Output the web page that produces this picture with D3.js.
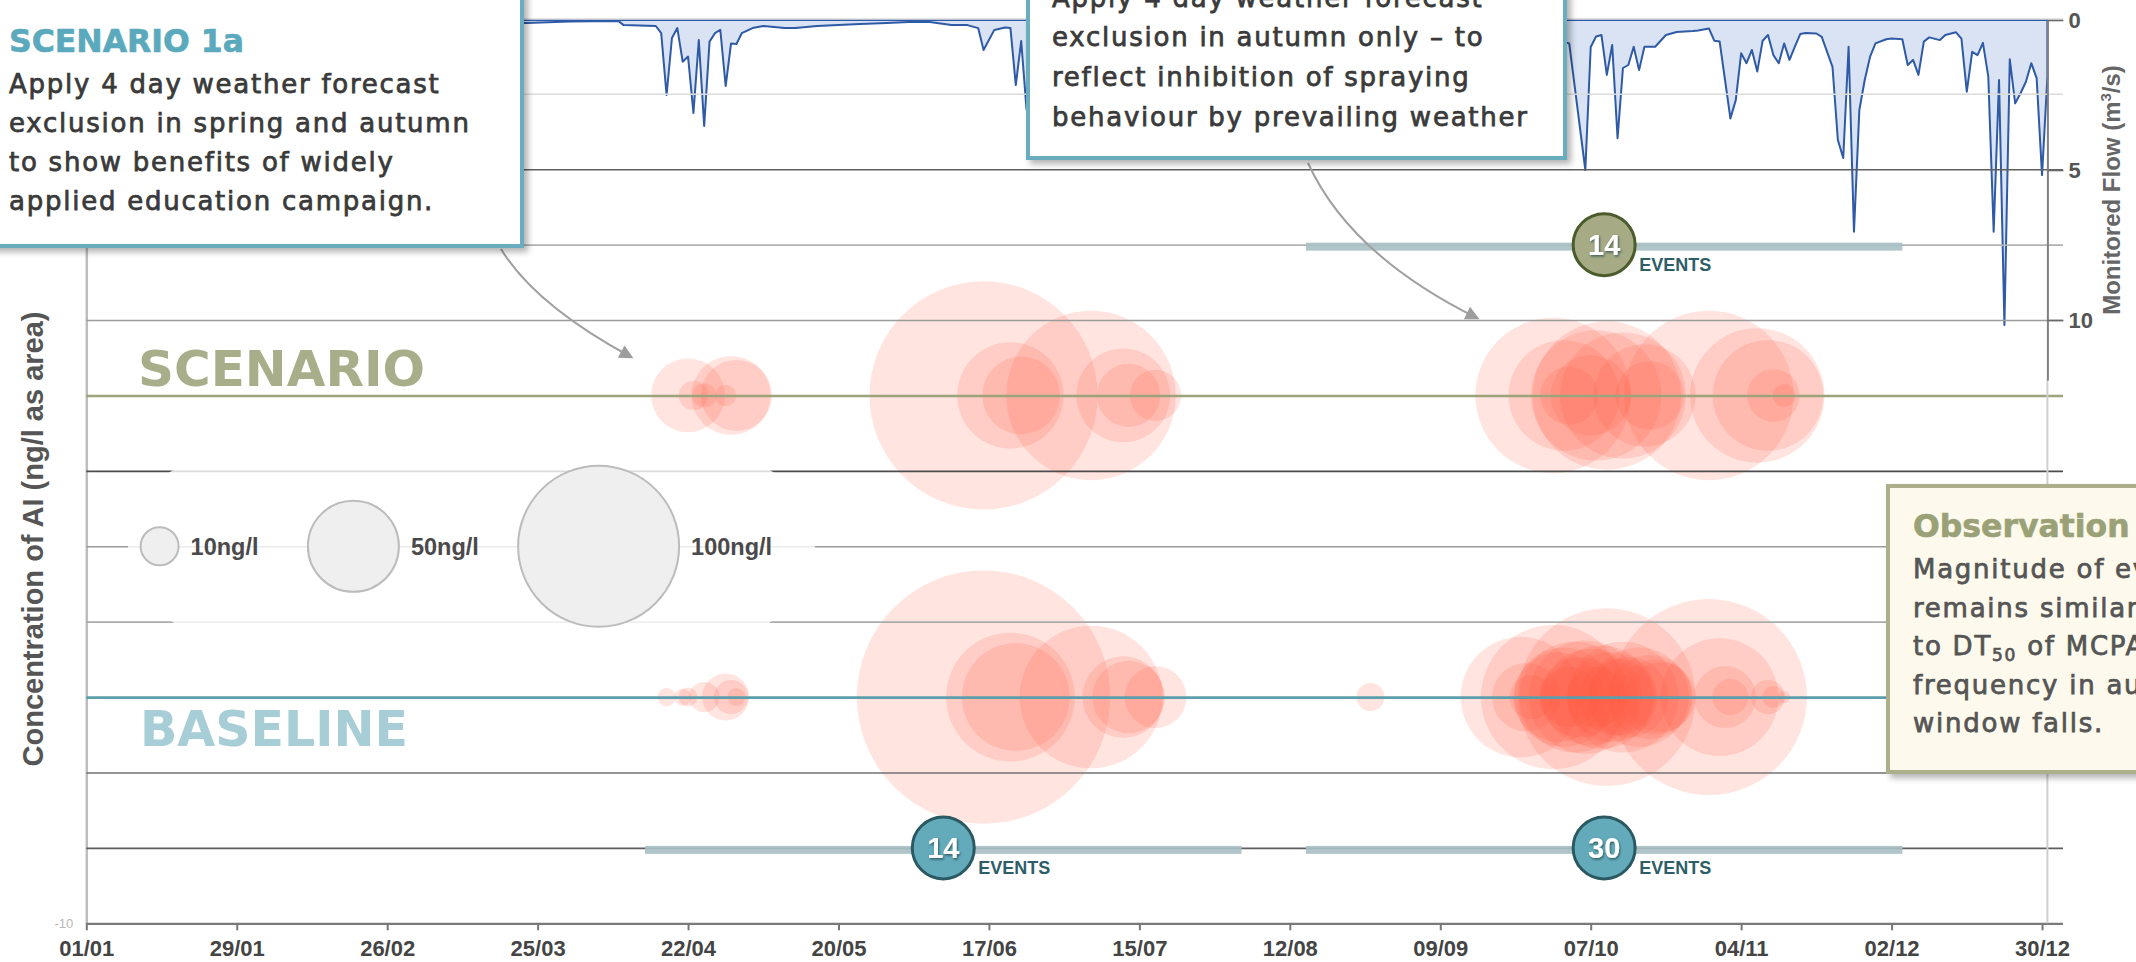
<!DOCTYPE html>
<html>
<head>
<meta charset="utf-8">
<script src="https://cdnjs.cloudflare.com/ajax/libs/d3/7.8.5/d3.min.js"></script>
<style>
  html, body { margin: 0; padding: 0; background: #fff; }
  svg { display: block; }
</style>
</head>
<body>
<svg id="chart" width="2136" height="962"></svg>
<script>
// ---------------- data ----------------
const tickDates  = ["2012-01-01","2012-01-29","2012-02-26","2012-03-25","2012-04-22","2012-05-20","2012-06-17",
                    "2012-07-15","2012-08-12","2012-09-09","2012-10-07","2012-11-04","2012-12-02","2012-12-30"];
const tickLabels = ["01/01","29/01","26/02","25/03","22/04","20/05","17/06","15/07","12/08","09/09","07/10","04/11","02/12","30/12"];

// Concentration events (ng/l), baseline run
const baselineDates = ["2012-04-18","2012-04-21","2012-04-22","2012-04-25","2012-04-29","2012-04-30","2012-05-01",
                       "2012-06-16","2012-06-21","2012-06-22","2012-07-06","2012-07-12","2012-07-13","2012-07-18",
                       "2012-08-27","2012-09-24","2012-09-25","2012-09-26","2012-09-30","2012-10-01","2012-10-02",
                       "2012-10-03","2012-10-04","2012-10-05","2012-10-06","2012-10-07","2012-10-08","2012-10-09",
                       "2012-10-10","2012-10-11","2012-10-12","2012-10-13","2012-10-14","2012-10-16","2012-10-18",
                       "2012-10-19","2012-10-29","2012-10-31","2012-11-01","2012-11-02","2012-11-09","2012-11-10",
                       "2012-11-12","2012-10-20"];
const baselineConc  = [4.8, 4.5, 5, 8, 16.8, 9, 4.7,
                       166, 77, 62, 87, 43, 36, 28,
                       7.4, 71, 33, 14.5, 88, 49, 56,
                       27, 64, 42, 66, 54, 27, 59,
                       112, 49, 39, 64, 42, 56, 45,
                       38, 125, 69, 28, 9.5, 9, 5.8,
                       3.2, 34];

// Concentration events (ng/l), scenario 1a run
const scenarioDates = ["2012-04-22","2012-04-23","2012-04-25","2012-04-29","2012-04-30","2012-05-01",
                       "2012-06-16","2012-06-21","2012-06-23","2012-07-06","2012-07-12","2012-07-13","2012-07-18",
                       "2012-09-30","2012-10-02","2012-10-03","2012-10-07","2012-10-08","2012-10-10","2012-10-13",
                       "2012-10-17","2012-10-18","2012-10-29","2012-11-07","2012-11-09","2012-11-10","2012-11-12"];
const scenarioConc  = [37, 7.7, 6.4, 5.6, 41, 35,
                       148, 61, 40, 106, 52, 29, 20,
                       96, 64, 25, 42, 78, 91, 75,
                       58, 33, 106, 81, 64, 21, 6];

// Monitored flow (m3/s), day offset from 1 January
const flowDays = [0,20,40,60,75,82,90,99,100,106,107,108,109,110,111,112,113,114,115,116,117,118,119,120,121,122,
                  124,126,130,132,136,140,144,149,153,157,161,164,166,167,169,171,172,173,174,175,176,178,182,186,
                  188,195,203,206,215,228,240,250,256,259,265,270,272,276,279,280,281,282,283,284,285,286,287,288,
                  289,290,292,294,296,299,300,302,303,304,305,306,307,308,309,310,311,312,313,314,315,316,317,318,
                  319,320,322,323,325,326,327,328,329,330,331,332,333,335,336,338,339,340,341,342,343,345,346,348,
                  349,350,351,352,353,354,355,356,357,358,359,360,361,362,363,364,365];
const flowValues = [0.08,0.08,0.1,0.1,0.12,0.1,0.05,0.03,0.17,0.2,0.44,2.5,0.6,0.27,1.39,1.22,3.1,0.67,3.53,0.72,0.44,0.33,2.2,0.78,0.8,0.44,
                    0.27,0.2,0.27,0.27,0.2,0.17,0.13,0.1,0.07,0.07,0.17,0.17,0.27,1.0,0.33,0.25,0.27,2.17,0.7,2.98,1.1,0.5,0.4,1.3,
                    0.5,0.3,0.9,0.4,0.2,0.15,0.3,0.6,1.4,0.5,0.4,1.2,0.6,0.78,5.0,0.9,0.55,0.5,1.83,0.83,3.94,1.6,1.5,0.89,
                    1.67,0.89,0.89,0.5,0.4,0.37,0.35,0.28,0.69,0.72,2.0,3.28,2.67,1.11,1.44,1.0,1.72,0.69,0.5,1.17,1.44,0.78,1.33,0.89,
                    0.47,0.43,0.45,0.56,1.56,4.0,4.6,0.89,7.06,3.0,2.0,1.22,0.78,0.64,0.62,0.64,1.5,1.33,1.83,0.72,0.58,0.67,0.5,0.41,
                    0.62,2.39,1.06,1.17,0.76,1.89,7.06,2.0,10.17,1.31,2.78,2.44,2.06,1.44,1.94,5.17,1.9];

// Application windows and number of events in each
const windowRows   = ["baseline","baseline","scenario"];
const windowStarts = ["2012-04-14","2012-08-15","2012-08-15"];
const windowEnds   = ["2012-08-03","2012-12-04","2012-12-04"];
const windowCounts = [14, 30, 14];

const legendValues = [10, 50, 100];
const legendLabels = ["10ng/l", "50ng/l", "100ng/l"];

// ---------------- scales ----------------
const parse = d3.utcParse("%Y-%m-%d");
const yearStart = parse("2012-01-01");
const W = 2136, H = 962;
const plotLeft = 86.3, plotRight = 2047.4, gridRight = 2063;

const x = d3.scaleUtc().domain([yearStart, parse("2012-12-31")]).range([plotLeft, plotRight]);
const y = d3.scaleLinear().domain([-10, 110]).range([923.3, 18.4]);     // concentration rows / grid
const yFlow = d3.scaleLinear().domain([0, 12]).range([20, 380]);        // flow hangs from the top
const rScale = d3.scaleLinear().domain([0, 10, 50, 100]).range([0, 19, 45.5, 80.5]);

const rowLevel   = { scenario: 60, baseline: 20 };
const eventLevel = { scenario: 80, baseline: 0 };
const legendLevel = 40;

const svg = d3.select("#chart");
svg.append("rect").attr("width", W).attr("height", H).attr("fill", "#fff");

const defs = svg.append("defs");
const sh = defs.append("filter").attr("id", "boxShadow").attr("x", "-10%").attr("y", "-10%").attr("width", "130%").attr("height", "130%");
sh.append("feDropShadow").attr("dx", 4).attr("dy", 4).attr("stdDeviation", 3)
  .attr("flood-color", "#000").attr("flood-opacity", 0.3);
const ts = defs.append("filter").attr("id", "numShadow");
ts.append("feDropShadow").attr("dx", 1).attr("dy", 1.5).attr("stdDeviation", 1)
  .attr("flood-color", "#1d3a40").attr("flood-opacity", 0.7);
defs.append("marker").attr("id", "arrowHead").attr("viewBox", "0 0 10 10")
  .attr("refX", 8).attr("refY", 5).attr("markerWidth", 8).attr("markerHeight", 7)
  .attr("orient", "auto")
  .append("path").attr("d", "M0,0 L10,5 L0,10 z").attr("fill", "#9d9d9d");

// ---------------- flow (top) ----------------
const flowData = flowDays.map((d, i) => ({ date: d3.utcDay.offset(yearStart, d), v: flowValues[i] }));
const flowArea = d3.area()
  .x(d => x(d.date))
  .y0(yFlow(0))
  .y1(d => yFlow(d.v));
svg.append("path").datum(flowData)
  .attr("d", flowArea)
  .attr("fill", "#d9e3f3")
  .attr("stroke", "#2f5aa6")
  .attr("stroke-width", 2)
  .attr("stroke-linejoin", "round");

// ---------------- concentration bubbles ----------------
const bubbles = []
  .concat(baselineDates.map((d, i) => ({ row: "baseline", date: parse(d), c: baselineConc[i] })))
  .concat(scenarioDates.map((d, i) => ({ row: "scenario", date: parse(d), c: scenarioConc[i] })));

svg.append("g").selectAll("circle").data(bubbles).join("circle")
  .attr("cx", d => x(d.date))
  .attr("cy", d => y(rowLevel[d.row]))
  .attr("r", d => rScale(d.c))
  .attr("fill", "#ff5a3c")
  .attr("fill-opacity", 0.16);

// ---------------- grid / left axis ----------------
const gridColour = { 110: "#e4e4e4", 100: "#dcdcdc", 90: "#5e5e5e", 80: "#b2b2b2", 70: "#9c9c9c", 60: "#9da37b",
                     50: "#4c4c4c", 40: "#9a9a9a", 30: "#ababab", 20: "#5c9eab", 10: "#727272", 0: "#5e5e5e", "-10": "#7a7a7a" };
const gridValues = d3.range(-10, 111, 10);
const yAxis = d3.axisLeft(y).tickValues(gridValues)
  .tickSize(-(gridRight - plotLeft)).tickSizeOuter(0).tickPadding(13)
  .tickFormat(d => d === -10 ? "-10" : "");
const gy = svg.append("g").attr("transform", `translate(${plotLeft},0)`).call(yAxis);
gy.select(".domain").attr("stroke", "#bdbdbd").attr("stroke-width", 2.5);
gy.selectAll(".tick line")
  .attr("stroke", d => gridColour[d])
  .attr("stroke-width", d => (d === 60 || d === 20) ? 2.6 : (d === -10 ? 2.2 : 1.6));
gy.selectAll(".tick text").attr("fill", "#b8b8b8").attr("font-size", 13)
  .attr("font-family", "Liberation Sans, Arial, sans-serif");

// right edge of the plot below the flow axis
svg.append("line").attr("x1", plotRight).attr("x2", plotRight)
  .attr("y1", yFlow(12)).attr("y2", y(-10))
  .attr("stroke", "#cfcfcf").attr("stroke-width", 2);

// ---------------- size legend ----------------
svg.append("rect").attr("x", 128).attr("y", y(legendLevel) - 87).attr("width", 687).attr("height", 174)
  .attr("rx", 87).attr("fill", "#fff").attr("opacity", 0.8);
const legendX = [159.6, 353.4, 598.6];
const lg = svg.append("g").selectAll("g").data(legendValues).join("g");
lg.append("circle")
  .attr("cx", (d, i) => legendX[i]).attr("cy", y(legendLevel))
  .attr("r", d => rScale(d))
  .attr("fill", "#efefef").attr("stroke", "#bcbcbc").attr("stroke-width", 2);
lg.append("text")
  .attr("x", (d, i) => legendX[i] + rScale(d) + 12).attr("y", y(legendLevel) + 8.5)
  .attr("font-family", "Liberation Sans, Arial, sans-serif").attr("font-weight", "bold")
  .attr("font-size", 23.5).attr("fill", "#4a4a4a")
  .text((d, i) => legendLabels[i]);

// ---------------- application windows + event counts ----------------
const win = windowRows.map((r, i) => ({ row: r, s: parse(windowStarts[i]), e: parse(windowEnds[i]), n: windowCounts[i] }));
svg.append("g").selectAll("rect").data(win).join("rect")
  .attr("x", d => x(d.s)).attr("width", d => x(d.e) - x(d.s))
  .attr("y", d => y(eventLevel[d.row]) - 2).attr("height", 8)
  .attr("fill", "#a9c0c4").attr("opacity", 0.92);

const badges = svg.append("g").selectAll("g").data(win).join("g")
  .attr("transform", d => `translate(${x(new Date((+d.s + +d.e) / 2))},${y(eventLevel[d.row])})`);
badges.append("circle").attr("r", 31)
  .attr("fill", d => d.row === "scenario" ? "#a6ab86" : "#63abbb")
  .attr("stroke", d => d.row === "scenario" ? "#4a5c2c" : "#2b5962")
  .attr("stroke-width", 3);
badges.append("text").attr("text-anchor", "middle").attr("y", 10)
  .attr("font-family", "Liberation Sans, Arial, sans-serif").attr("font-weight", "bold")
  .attr("font-size", 29).attr("fill", "#fff").attr("filter", "url(#numShadow)")
  .text(d => d.n);
badges.append("text").attr("x", 35).attr("y", 26)
  .attr("font-family", "Liberation Sans, Arial, sans-serif").attr("font-weight", "bold")
  .attr("font-size", 18).attr("fill", "#2d5e67")
  .text("EVENTS");

// ---------------- row titles ----------------
svg.append("text").attr("x", 138).attr("y", y(rowLevel.scenario) - 9)
  .attr("font-family", "DejaVu Sans, sans-serif").attr("font-weight", "bold")
  .attr("font-size", 50).attr("fill", "#a9ae8a").text("SCENARIO");
svg.append("text").attr("x", 140).attr("y", y(rowLevel.baseline) + 49)
  .attr("font-family", "DejaVu Sans, sans-serif").attr("font-weight", "bold")
  .attr("font-size", 49).attr("fill", "#a7cdd7").text("BASELINE");

// ---------------- x axis ----------------
const xAxis = d3.axisBottom(x).tickValues(tickDates.map(parse))
  .tickFormat((d, i) => tickLabels[i]).tickSize(7).tickSizeOuter(0).tickPadding(10);
const gx = svg.append("g").attr("transform", `translate(0,${y(-10)})`).call(xAxis);
gx.select(".domain").remove();
gx.selectAll(".tick line").attr("stroke", "#777").attr("stroke-width", 2);
gx.selectAll(".tick text").attr("font-family", "Liberation Sans, Arial, sans-serif")
  .attr("font-weight", "bold").attr("font-size", 22).attr("fill", "#444");

// ---------------- flow axis ----------------
const fAxis = d3.axisRight(yFlow).tickValues([0, 5, 10]).tickSize(16).tickSizeOuter(0).tickPadding(5);
const gf = svg.append("g").attr("transform", `translate(${plotRight},0)`).call(fAxis);
gf.select(".domain").attr("stroke", "#808080").attr("stroke-width", 2);
gf.selectAll(".tick line").attr("stroke", "#6a6a6a").attr("stroke-width", 1.6);
gf.selectAll(".tick text").attr("font-family", "Liberation Sans, Arial, sans-serif")
  .attr("font-weight", "bold").attr("font-size", 22).attr("fill", "#555");

const flowLabel = svg.append("text").attr("transform", "translate(2120,190) rotate(-90)")
  .attr("text-anchor", "middle")
  .attr("font-family", "Liberation Sans, Arial, sans-serif").attr("font-weight", "bold")
  .attr("font-size", 24).attr("fill", "#666");
flowLabel.append("tspan").text("Monitored Flow (m");
flowLabel.append("tspan").attr("dy", -9).attr("font-size", 15).text("3");
flowLabel.append("tspan").attr("dy", 9).text("/s)");

svg.append("text").attr("transform", "translate(43,539) rotate(-90)")
  .attr("text-anchor", "middle")
  .attr("font-family", "Liberation Sans, Arial, sans-serif").attr("font-weight", "bold")
  .attr("font-size", 29).attr("fill", "#555")
  .text("Concentration of AI (ng/l as area)");

// ---------------- callouts ----------------
const bodyFont = "DejaVu Sans, sans-serif";
function callout(box, title, titleColour, lines, lineYs, tx, titleY, fill, stroke, textColour) {
  const g = svg.append("g");
  g.append("rect").attr("x", box[0]).attr("y", box[1]).attr("width", box[2]).attr("height", box[3])
    .attr("fill", fill).attr("stroke", stroke).attr("stroke-width", 4).attr("filter", "url(#boxShadow)");
  if (title) {
    g.append("text").attr("x", tx).attr("y", titleY)
      .attr("font-family", bodyFont).attr("font-weight", "bold").attr("font-size", 31.5)
      .attr("fill", titleColour).attr("stroke", titleColour).attr("stroke-width", 0.6)
      .text(title);
  }
  lines.forEach((ln, i) => {
    const t = g.append("text").attr("x", tx).attr("y", lineYs[i])
      .attr("font-family", bodyFont).attr("font-size", 26).attr("letter-spacing", 1.75)
      .attr("fill", textColour).attr("stroke", textColour).attr("stroke-width", 0.75)
      .attr("paint-order", "stroke");
    ln.forEach(part => {
      const sp = t.append("tspan").text(part.t);
      if (part.sub) sp.attr("font-size", 17).attr("dy", 6);
      if (part.after) sp.attr("dy", -6);
    });
  });
  return g;
}

// arrows from the callouts
svg.append("path").attr("d", "M501,249 Q535,305 631,357")
  .attr("fill", "none").attr("stroke", "#a0a0a0").attr("stroke-width", 2).attr("marker-end", "url(#arrowHead)");
svg.append("path").attr("d", "M1308,163 Q1350,255 1477,318")
  .attr("fill", "none").attr("stroke", "#a0a0a0").attr("stroke-width", 2).attr("marker-end", "url(#arrowHead)");

callout([-8, -8, 530, 254], "SCENARIO 1a", "#5aa9bc",
  [[{ t: "Apply 4 day weather forecast" }], [{ t: "exclusion in spring and autumn" }],
   [{ t: "to show benefits of widely" }], [{ t: "applied education campaign." }]],
  [92.7, 131.7, 170.7, 209.7], 9, 51.7, "#fff", "#69adbf", "#3a3a3a");

callout([1028, -8, 537, 166], null, null,
  [[{ t: "Apply 4 day weather forecast" }], [{ t: "exclusion in autumn only \u2013 to" }],
   [{ t: "reflect inhibition of spraying" }], [{ t: "behaviour by prevailing weather" }]],
  [6.5, 46, 86, 126], 1052, 0, "#fff", "#69adbf", "#3a3a3a");

callout([1888, 486, 262, 286], "Observation", "#9aa176",
  [[{ t: "Magnitude of events" }], [{ t: "remains similar due" }],
   [{ t: "to DT" }, { t: "50", sub: true }, { t: " of MCPA but", after: true }],
   [{ t: "frequency in autumn" }], [{ t: "window falls." }]],
  [578, 616.7, 655, 693.5, 731.7], 1913, 536.7, "#fdf9ec", "#abb08b", "#555555");
</script>
</body>
</html>
